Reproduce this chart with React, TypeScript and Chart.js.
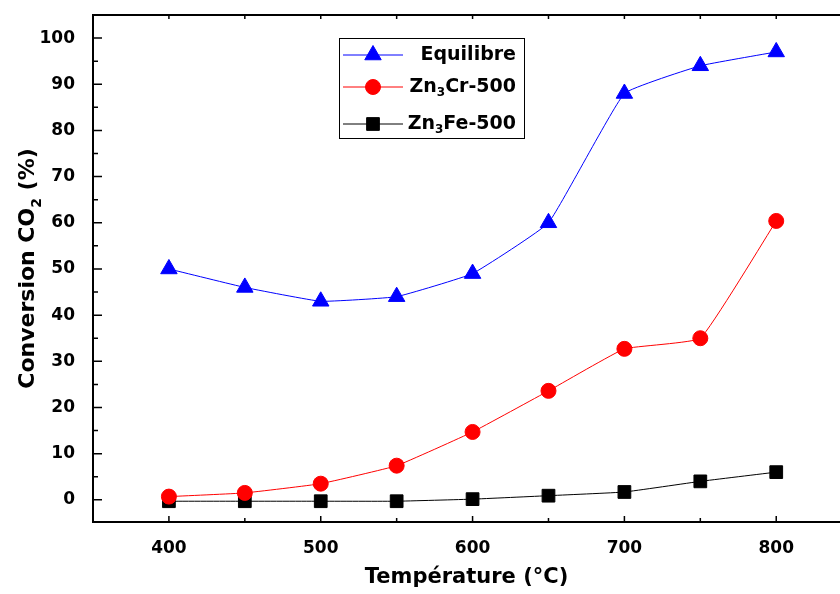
import React, { useEffect, useRef } from 'react';
import { Chart, registerables } from 'chart.js';
import { drawPoint } from 'chart.js/helpers';

Chart.register(...registerables);

const temperatures = [400, 450, 500, 550, 600, 650, 700, 750, 800];
const equilibre = [50, 46, 43, 44, 49, 60, 88, 94, 97];
const zn3cr500 = [0.7, 1.5, 3.5, 7.4, 14.7, 23.6, 32.7, 35.0, 60.4];
const zn3fe500 = [-0.3, -0.3, -0.3, -0.3, 0.15, 0.9, 1.7, 4.0, 6.0];

const xMinorTicks = [400, 450, 500, 550, 600, 650, 700, 750, 800];
const xLabelTicks = [400, 500, 600, 700, 800];
const yMinorTicks = [0, 5, 10, 15, 20, 25, 30, 35, 40, 45, 50, 55, 60, 65, 70, 75, 80, 85, 90, 95, 100];
const yLabelTicks = [0, 10, 20, 30, 40, 50, 60, 70, 80, 90, 100];

const FONT = '"DejaVu Sans", "Liberation Sans", Arial, sans-serif';

type Part = { t: string; sub?: boolean };

const legendItems: { parts: Part[]; color: string; style: string; radius: number }[] = [
  { parts: [{ t: 'Equilibre' }], color: '#0000ff', style: 'triangle', radius: 9.5 },
  { parts: [{ t: 'Zn' }, { t: '3', sub: true }, { t: 'Cr-500' }], color: '#ff0000', style: 'circle', radius: 7.5 },
  { parts: [{ t: 'Zn' }, { t: '3', sub: true }, { t: 'Fe-500' }], color: '#000000', style: 'rect', radius: 9 },
];

function richWidth(ctx: CanvasRenderingContext2D, parts: Part[], size: number) {
  let w = 0;
  for (const p of parts) {
    ctx.font = `bold ${p.sub ? Math.round(size * 0.65) : size}px ${FONT}`;
    w += ctx.measureText(p.t).width;
  }
  return w;
}

function drawRich(ctx: CanvasRenderingContext2D, parts: Part[], x: number, y: number, size: number) {
  let cx = x;
  ctx.textAlign = 'left';
  for (const p of parts) {
    const s = p.sub ? Math.round(size * 0.65) : size;
    ctx.font = `bold ${s}px ${FONT}`;
    ctx.fillText(p.t, cx, p.sub ? y + size * 0.32 : y);
    cx += ctx.measureText(p.t).width;
  }
}

const decorPlugin = {
  id: 'decor',
  afterDraw(chart: any) {
    const { ctx, chartArea } = chart;
    const { left, right, top, bottom } = chartArea;
    const xs = chart.scales.x;
    const ys = chart.scales.y;
    ctx.save();
    ctx.strokeStyle = '#000';
    ctx.lineWidth = 2;
    ctx.beginPath();
    ctx.moveTo(left - 1, top);
    ctx.lineTo(right, top);
    ctx.stroke();

    ctx.lineWidth = 1.5;
    ctx.beginPath();
    for (const v of yMinorTicks) {
      const py = ys.getPixelForValue(v);
      const len = v % 10 === 0 ? 9 : 5;
      ctx.moveTo(left, py);
      ctx.lineTo(left + len, py);
    }
    for (const v of xMinorTicks) {
      const px = xs.getPixelForValue(v);
      const len = v % 100 === 0 ? 6 : 4;
      ctx.moveTo(px, bottom);
      ctx.lineTo(px, bottom - len);
      ctx.moveTo(px, top);
      ctx.lineTo(px, top + 4);
    }
    ctx.stroke();

    // Y title with subscript
    ctx.fillStyle = '#000';
    ctx.textBaseline = 'alphabetic';
    const yParts: Part[] = [{ t: 'Conversion CO' }, { t: '2', sub: true }, { t: ' (%)' }];
    const ySize = 22;
    const yw = richWidth(ctx, yParts, ySize);
    ctx.save();
    ctx.translate(34, (top + bottom) / 2);
    ctx.rotate(-Math.PI / 2);
    drawRich(ctx, yParts, -yw / 2, 0, ySize);
    ctx.restore();

    // Legend
    const lx = left + 246;
    const ly = top + 23;
    const lw = 185;
    const lh = 100;
    ctx.lineWidth = 1;
    ctx.strokeStyle = '#000';
    ctx.strokeRect(lx + 0.5, ly + 0.5, lw, lh);
    const rows = [40, 72, 109];
    const lSize = 19;
    legendItems.forEach((it, i) => {
      const ry = top + rows[i];
      ctx.strokeStyle = it.color;
      ctx.fillStyle = it.color;
      ctx.lineWidth = 1;
      ctx.beginPath();
      ctx.moveTo(lx + 4, ry);
      ctx.lineTo(lx + 64, ry);
      ctx.stroke();
      drawPoint(ctx, { pointStyle: it.style as any, rotation: 0, radius: it.radius, borderWidth: 1 }, lx + 34, ry);
      ctx.fillStyle = '#000';
      ctx.textBaseline = 'middle';
      const w = richWidth(ctx, it.parts, lSize);
      drawRich(ctx, it.parts, lx + 177 - w, ry, lSize);
    });
    ctx.restore();
  },
};

const zeroPad = (s: any) => {
  s.paddingTop = 0;
  s.paddingBottom = 0;
  s.paddingLeft = 0;
  s.paddingRight = 0;
};

export default function App() {
  const ref = useRef<HTMLCanvasElement | null>(null);
  useEffect(() => {
    document.body.style.margin = '0';
    if (!ref.current) return;
    const mk = (arr: number[]) => temperatures.map((t, i) => ({ x: t, y: arr[i] }));
    const chart = new Chart(ref.current, {
      type: 'line',
      data: {
        datasets: [
          {
            label: 'Equilibre',
            data: mk(equilibre),
            borderColor: '#0000ff',
            backgroundColor: '#0000ff',
            borderWidth: 1,
            pointStyle: 'triangle',
            pointRadius: 9.5,
            pointBorderWidth: 1,
            tension: 0.1,
          },
          {
            label: 'Zn3Cr-500',
            data: mk(zn3cr500),
            borderColor: '#ff0000',
            backgroundColor: '#ff0000',
            borderWidth: 1,
            pointStyle: 'circle',
            pointRadius: 7.5,
            pointBorderWidth: 1,
            tension: 0.1,
          },
          {
            label: 'Zn3Fe-500',
            data: mk(zn3fe500),
            borderColor: '#000000',
            backgroundColor: '#000000',
            borderWidth: 1,
            pointStyle: 'rect',
            pointRadius: 9,
            pointBorderWidth: 1,
            tension: 0.1,
          },
        ],
      },
      options: {
        responsive: false,
        animation: false,
        layout: { autoPadding: false, padding: { left: 0, right: 0, top: 15, bottom: 0 } },
        plugins: { legend: { display: false }, tooltip: { enabled: false } },
        scales: {
          x: {
            type: 'linear',
            min: 350,
            max: 842,
            afterBuildTicks: (s: any) => {
              s.ticks = xLabelTicks.map((v) => ({ value: v }));
            },
            afterFit: (s: any) => {
              s.height = 72;
              zeroPad(s);
            },
            grid: { display: false },
            border: { display: true, color: '#000', width: 2 },
            ticks: {
              color: '#000',
              font: { family: FONT, size: 17, weight: 'bold' },
              padding: 8,
              maxRotation: 0,
              autoSkip: false,
            },
            title: {
              display: true,
              text: 'Température (°C)',
              color: '#000',
              font: { family: FONT, size: 21, weight: 'bold' },
              padding: { top: 0, bottom: 4 },
            },
          },
          y: {
            type: 'linear',
            min: -4.8,
            max: 105,
            afterBuildTicks: (s: any) => {
              s.ticks = yLabelTicks.map((v) => ({ value: v }));
            },
            afterFit: (s: any) => {
              s.width = 93;
              zeroPad(s);
            },
            grid: { display: false },
            border: { display: true, color: '#000', width: 2 },
            ticks: {
              color: '#000',
              font: { family: FONT, size: 17, weight: 'bold' },
              padding: 10,
              autoSkip: false,
            },
          },
        },
      },
      plugins: [decorPlugin],
    } as any);
    return () => chart.destroy();
  }, []);
  return (
    <div style={{ width: 840, height: 594 }}>
      <canvas ref={ref} width={840} height={594} style={{ display: 'block' }} />
    </div>
  );
}
